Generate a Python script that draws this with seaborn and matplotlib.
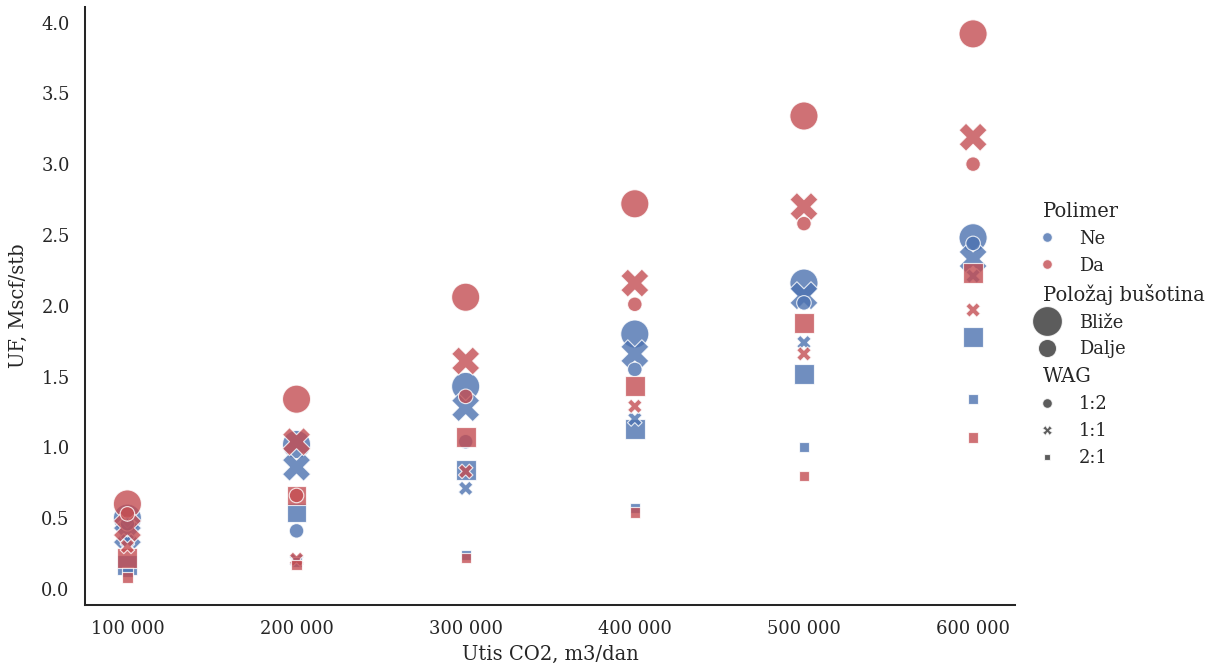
import pandas as pd
import matplotlib
matplotlib.use("Agg")
import matplotlib.pyplot as plt
import matplotlib.ticker as mticker
import seaborn as sns

# injection rates (m3/dan)
utis = [100000, 200000, 300000, 400000, 500000, 600000]
wag_levels = ["1:2", "1:1", "2:1"]

# UF values per group, one value per WAG level (1:2, 1:1, 2:1) for each injection rate
ne_blize = [[0.50, 0.38, 0.17], [1.02, 0.86, 0.54], [1.43, 1.28, 0.84],
            [1.80, 1.66, 1.13], [2.16, 2.07, 1.52], [2.48, 2.33, 1.78]]
ne_dalje = [[0.46, 0.34, 0.12], [0.41, 0.20, 0.19], [1.04, 0.71, 0.24],
            [1.55, 1.20, 0.57], [2.02, 1.74, 1.00], [2.44, 2.21, 1.34]]
da_blize = [[0.60, 0.43, 0.22], [1.34, 1.04, 0.66], [2.06, 1.61, 1.07],
            [2.72, 2.16, 1.43], [3.34, 2.70, 1.88], [3.92, 3.19, 2.23]]
da_dalje = [[0.53, 0.30, 0.08], [0.66, 0.21, 0.17], [1.36, 0.83, 0.22],
            [2.01, 1.29, 0.54], [2.58, 1.66, 0.80], [3.00, 1.97, 1.07]]

groups = [("Ne", "Bliže", ne_blize), ("Ne", "Dalje", ne_dalje),
          ("Da", "Bliže", da_blize), ("Da", "Dalje", da_dalje)]

rows = []
for polimer, polozaj, vals in groups:
    for i, x in enumerate(utis):
        for j, wag in enumerate(wag_levels):
            rows.append({"Utis CO2, m3/dan": x, "UF, Mscf/stb": vals[i][j],
                         "Polimer": polimer, "Položaj bušotina": polozaj, "WAG": wag})
df = pd.DataFrame(rows)

sns.set_theme(style="white", font="DejaVu Serif")
plt.rcParams["font.family"] = ["DejaVu Serif"]

fig = plt.figure(figsize=(1216 / 117, 669 / 117), dpi=117)
ax = fig.add_axes([0.070, 0.096, 0.765, 0.894])

deep = sns.color_palette("deep")
sns.scatterplot(data=df, x="Utis CO2, m3/dan", y="UF, Mscf/stb",
                hue="Polimer", hue_order=["Ne", "Da"], palette=[deep[0], deep[3]],
                size="Položaj bušotina", size_order=["Bliže", "Dalje"],
                sizes={"Bliže": 300, "Dalje": 80},
                style="WAG", style_order=wag_levels,
                alpha=0.8, ax=ax)

sns.despine(ax=ax)
ax.set_xticks(utis)
ax.xaxis.set_major_formatter(mticker.FuncFormatter(lambda v, p: f"{v:,.0f}".replace(",", " ")))
ax.yaxis.labelpad = 8

sns.move_legend(ax, "center left", bbox_to_anchor=(0.833, 0.5),
                bbox_transform=fig.transFigure, frameon=False)
leg = ax.get_legend()

# subtitles: bigger font, shifted left over the handles (like relplot's legend)
titles = {"Polimer", "Položaj bušotina", "WAG"}
for col in leg._legend_handle_box.get_children():
    for hpack in col.get_children():
        draw_area, text_area = hpack.get_children()
        txt = text_area.get_children()[0]
        if txt.get_text() in titles:
            draw_area.set_width(0)
            txt.set_fontsize(plt.rcParams["legend.title_fontsize"])

# size legend markers a little larger, as in the original
for h, t in zip(leg.legend_handles, leg.get_texts()):
    if t.get_text() == "Bliže":
        h.set_markersize(18.4)
    elif t.get_text() == "Dalje":
        h.set_markersize(11.2)

fig.savefig("out.png", dpi=117)
